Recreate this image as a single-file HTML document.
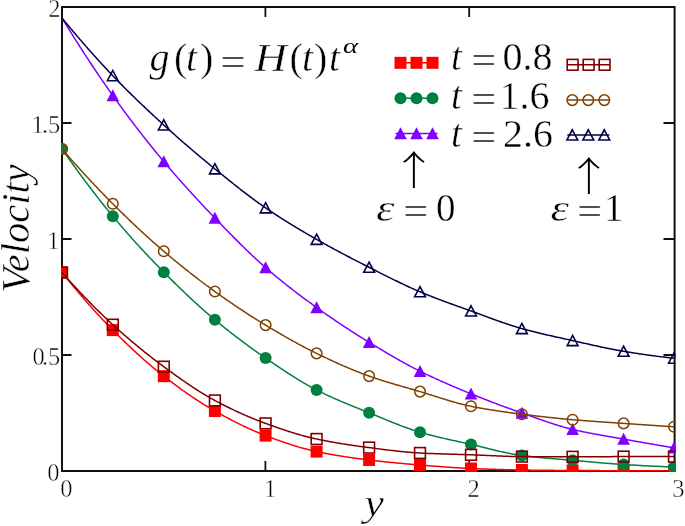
<!DOCTYPE html>
<html><head><meta charset="utf-8"><title>Velocity plot</title>
<style>
html,body{margin:0;padding:0;background:#fff;}
body{width:685px;height:526px;overflow:hidden;position:relative;}
svg{position:absolute;left:0;top:0;display:block;}
text{font-family:"Liberation Serif","Times New Roman",serif;fill:#000;stroke:#fff;stroke-width:0.45px;}
.ar{stroke:none;}
.it{font-style:italic;}
</style></head><body>
<svg width="685" height="526" viewBox="0 0 685 526">
<defs><clipPath id="pa"><rect x="61" y="6" width="614.6" height="466"/></clipPath></defs>

<rect x="62" y="7" width="612.6" height="464" fill="none" stroke="#111" stroke-width="2"/>
<path d="M265.4 471V461M265.4 7V17M469.2 471V461M469.2 7V17M62 355.0H71.5M674.6 355.0H663.5M62 239.0H71.5M674.6 239.0H663.5M62 123.0H71.5M674.6 123.0H663.5" stroke="#111" stroke-width="1.8" fill="none"/>
<g clip-path="url(#pa)">
<polyline fill="none" stroke-width="1.5" stroke="#ff0000" points="62.0,272.50 63.0,273.75 64.0,274.99 65.0,276.23 66.0,277.46 67.0,278.69 68.0,279.92 69.0,281.14 70.0,282.36 71.0,283.57 72.0,284.78 73.0,285.99 74.0,287.19 75.0,288.38 76.0,289.57 77.0,290.76 78.0,291.94 79.0,293.12 80.0,294.30 81.0,295.47 82.0,296.63 83.0,297.79 84.0,298.95 85.0,300.10 86.0,301.24 87.0,302.39 88.0,303.52 89.0,304.65 90.0,305.78 91.0,306.90 92.0,308.02 93.0,309.13 94.0,310.24 95.0,311.34 96.0,312.44 97.0,313.53 98.0,314.62 99.0,315.70 100.0,316.78 101.0,317.85 102.0,318.92 103.0,319.98 104.0,321.04 105.0,322.09 106.0,323.13 107.0,324.17 108.0,325.21 109.0,326.24 110.0,327.26 111.0,328.28 112.0,329.29 113.0,330.30 114.0,331.30 115.0,332.31 116.0,333.30 117.0,334.30 118.0,335.29 119.0,336.28 120.0,337.26 121.0,338.24 122.0,339.22 123.0,340.19 124.0,341.16 125.0,342.13 126.0,343.09 127.0,344.05 128.0,345.01 129.0,345.96 130.0,346.91 131.0,347.85 132.0,348.79 133.0,349.73 134.0,350.66 135.0,351.58 136.0,352.51 137.0,353.42 138.0,354.34 139.0,355.25 140.0,356.15 141.0,357.05 142.0,357.95 143.0,358.84 144.0,359.72 145.0,360.61 146.0,361.48 147.0,362.35 148.0,363.22 149.0,364.08 150.0,364.94 151.0,365.79 152.0,366.63 153.0,367.47 154.0,368.31 155.0,369.14 156.0,369.96 157.0,370.78 158.0,371.60 159.0,372.40 160.0,373.21 161.0,374.00 162.0,374.79 163.0,375.58 164.0,376.36 165.0,377.13 166.0,377.90 167.0,378.67 168.0,379.44 169.0,380.20 170.0,380.96 171.0,381.71 172.0,382.46 173.0,383.21 174.0,383.96 175.0,384.70 176.0,385.44 177.0,386.17 178.0,386.91 179.0,387.63 180.0,388.36 181.0,389.08 182.0,389.80 183.0,390.51 184.0,391.22 185.0,391.92 186.0,392.62 187.0,393.32 188.0,394.01 189.0,394.70 190.0,395.39 191.0,396.07 192.0,396.75 193.0,397.42 194.0,398.09 195.0,398.75 196.0,399.41 197.0,400.07 198.0,400.72 199.0,401.36 200.0,402.00 201.0,402.64 202.0,403.27 203.0,403.90 204.0,404.52 205.0,405.14 206.0,405.76 207.0,406.37 208.0,406.97 209.0,407.57 210.0,408.16 211.0,408.75 212.0,409.34 213.0,409.91 214.0,410.49 215.0,411.06 216.0,411.62 217.0,412.18 218.0,412.74 219.0,413.30 220.0,413.86 221.0,414.41 222.0,414.96 223.0,415.51 224.0,416.05 225.0,416.60 226.0,417.13 227.0,417.67 228.0,418.20 229.0,418.73 230.0,419.26 231.0,419.78 232.0,420.31 233.0,420.82 234.0,421.34 235.0,421.85 236.0,422.36 237.0,422.86 238.0,423.36 239.0,423.86 240.0,424.35 241.0,424.84 242.0,425.33 243.0,425.81 244.0,426.29 245.0,426.76 246.0,427.24 247.0,427.70 248.0,428.17 249.0,428.62 250.0,429.08 251.0,429.53 252.0,429.98 253.0,430.42 254.0,430.86 255.0,431.29 256.0,431.72 257.0,432.14 258.0,432.56 259.0,432.98 260.0,433.39 261.0,433.79 262.0,434.20 263.0,434.59 264.0,434.98 265.0,435.37 266.0,435.75 267.0,436.13 268.0,436.51 269.0,436.89 270.0,437.26 271.0,437.64 272.0,438.01 273.0,438.38 274.0,438.75 275.0,439.11 276.0,439.48 277.0,439.84 278.0,440.20 279.0,440.56 280.0,440.91 281.0,441.27 282.0,441.62 283.0,441.96 284.0,442.31 285.0,442.65 286.0,442.99 287.0,443.33 288.0,443.66 289.0,443.99 290.0,444.32 291.0,444.64 292.0,444.97 293.0,445.28 294.0,445.60 295.0,445.91 296.0,446.21 297.0,446.52 298.0,446.82 299.0,447.11 300.0,447.40 301.0,447.69 302.0,447.98 303.0,448.25 304.0,448.53 305.0,448.80 306.0,449.07 307.0,449.33 308.0,449.59 309.0,449.84 310.0,450.09 311.0,450.33 312.0,450.57 313.0,450.80 314.0,451.03 315.0,451.25 316.0,451.47 317.0,451.68 318.0,451.89 319.0,452.10 320.0,452.31 321.0,452.51 322.0,452.71 323.0,452.91 324.0,453.10 325.0,453.30 326.0,453.49 327.0,453.68 328.0,453.86 329.0,454.05 330.0,454.23 331.0,454.41 332.0,454.59 333.0,454.76 334.0,454.94 335.0,455.11 336.0,455.28 337.0,455.45 338.0,455.61 339.0,455.78 340.0,455.94 341.0,456.10 342.0,456.26 343.0,456.42 344.0,456.57 345.0,456.73 346.0,456.88 347.0,457.03 348.0,457.18 349.0,457.33 350.0,457.47 351.0,457.62 352.0,457.76 353.0,457.90 354.0,458.04 355.0,458.18 356.0,458.32 357.0,458.45 358.0,458.59 359.0,458.72 360.0,458.85 361.0,458.98 362.0,459.11 363.0,459.24 364.0,459.37 365.0,459.49 366.0,459.62 367.0,459.74 368.0,459.87 369.0,459.99 370.0,460.11 371.0,460.23 372.0,460.35 373.0,460.47 374.0,460.58 375.0,460.70 376.0,460.81 377.0,460.93 378.0,461.04 379.0,461.15 380.0,461.26 381.0,461.37 382.0,461.48 383.0,461.58 384.0,461.69 385.0,461.80 386.0,461.90 387.0,462.01 388.0,462.11 389.0,462.21 390.0,462.31 391.0,462.41 392.0,462.51 393.0,462.61 394.0,462.71 395.0,462.80 396.0,462.90 397.0,462.99 398.0,463.09 399.0,463.18 400.0,463.28 401.0,463.37 402.0,463.46 403.0,463.55 404.0,463.64 405.0,463.73 406.0,463.82 407.0,463.91 408.0,463.99 409.0,464.08 410.0,464.17 411.0,464.25 412.0,464.34 413.0,464.42 414.0,464.51 415.0,464.59 416.0,464.67 417.0,464.76 418.0,464.84 419.0,464.92 420.0,465.00 421.0,465.08 422.0,465.16 423.0,465.24 424.0,465.32 425.0,465.40 426.0,465.49 427.0,465.57 428.0,465.65 429.0,465.73 430.0,465.81 431.0,465.89 432.0,465.97 433.0,466.05 434.0,466.13 435.0,466.21 436.0,466.28 437.0,466.36 438.0,466.44 439.0,466.52 440.0,466.59 441.0,466.67 442.0,466.74 443.0,466.82 444.0,466.89 445.0,466.97 446.0,467.04 447.0,467.11 448.0,467.18 449.0,467.25 450.0,467.32 451.0,467.39 452.0,467.46 453.0,467.52 454.0,467.59 455.0,467.65 456.0,467.71 457.0,467.78 458.0,467.84 459.0,467.90 460.0,467.95 461.0,468.01 462.0,468.07 463.0,468.12 464.0,468.17 465.0,468.22 466.0,468.27 467.0,468.32 468.0,468.37 469.0,468.41 470.0,468.46 471.0,468.50 472.0,468.54 473.0,468.58 474.0,468.62 475.0,468.66 476.0,468.70 477.0,468.74 478.0,468.78 479.0,468.82 480.0,468.86 481.0,468.89 482.0,468.93 483.0,468.97 484.0,469.00 485.0,469.04 486.0,469.08 487.0,469.11 488.0,469.15 489.0,469.18 490.0,469.21 491.0,469.25 492.0,469.28 493.0,469.31 494.0,469.34 495.0,469.37 496.0,469.40 497.0,469.43 498.0,469.46 499.0,469.49 500.0,469.52 501.0,469.55 502.0,469.58 503.0,469.60 504.0,469.63 505.0,469.66 506.0,469.68 507.0,469.71 508.0,469.73 509.0,469.75 510.0,469.78 511.0,469.80 512.0,469.82 513.0,469.84 514.0,469.86 515.0,469.88 516.0,469.90 517.0,469.92 518.0,469.94 519.0,469.95 520.0,469.97 521.0,469.99 522.0,470.00 523.0,470.02 524.0,470.03 525.0,470.04 526.0,470.06 527.0,470.07 528.0,470.09 529.0,470.10 530.0,470.11 531.0,470.13 532.0,470.14 533.0,470.15 534.0,470.16 535.0,470.18 536.0,470.19 537.0,470.20 538.0,470.21 539.0,470.22 540.0,470.23 541.0,470.24 542.0,470.25 543.0,470.27 544.0,470.28 545.0,470.29 546.0,470.30 547.0,470.31 548.0,470.32 549.0,470.32 550.0,470.33 551.0,470.34 552.0,470.35 553.0,470.36 554.0,470.37 555.0,470.38 556.0,470.39 557.0,470.39 558.0,470.40 559.0,470.41 560.0,470.42 561.0,470.42 562.0,470.43 563.0,470.44 564.0,470.45 565.0,470.45 566.0,470.46 567.0,470.47 568.0,470.47 569.0,470.48 570.0,470.48 571.0,470.49 572.0,470.50 573.0,470.50 574.0,470.51 575.0,470.51 576.0,470.52 577.0,470.52 578.0,470.53 579.0,470.53 580.0,470.54 581.0,470.54 582.0,470.55 583.0,470.55 584.0,470.56 585.0,470.56 586.0,470.57 587.0,470.57 588.0,470.58 589.0,470.58 590.0,470.59 591.0,470.59 592.0,470.59 593.0,470.60 594.0,470.60 595.0,470.61 596.0,470.61 597.0,470.61 598.0,470.62 599.0,470.62 600.0,470.63 601.0,470.63 602.0,470.63 603.0,470.64 604.0,470.64 605.0,470.64 606.0,470.65 607.0,470.65 608.0,470.65 609.0,470.66 610.0,470.66 611.0,470.66 612.0,470.67 613.0,470.67 614.0,470.67 615.0,470.68 616.0,470.68 617.0,470.68 618.0,470.68 619.0,470.69 620.0,470.69 621.0,470.69 622.0,470.70 623.0,470.70 624.0,470.70 625.0,470.70 626.0,470.71 627.0,470.71 628.0,470.71 629.0,470.71 630.0,470.72 631.0,470.72 632.0,470.72 633.0,470.72 634.0,470.73 635.0,470.73 636.0,470.73 637.0,470.73 638.0,470.74 639.0,470.74 640.0,470.74 641.0,470.74 642.0,470.75 643.0,470.75 644.0,470.75 645.0,470.75 646.0,470.75 647.0,470.76 648.0,470.76 649.0,470.76 650.0,470.76 651.0,470.76 652.0,470.77 653.0,470.77 654.0,470.77 655.0,470.77 656.0,470.77 657.0,470.78 658.0,470.78 659.0,470.78 660.0,470.78 661.0,470.78 662.0,470.78 663.0,470.79 664.0,470.79 665.0,470.79 666.0,470.79 667.0,470.79 668.0,470.79 669.0,470.79 670.0,470.80 671.0,470.80 672.0,470.80 673.0,470.80 674.0,470.80"/>
<rect x="56.0" y="266.5" width="12" height="12" fill="#ff0000"/>
<rect x="106.8" y="324.1" width="12" height="12" fill="#ff0000"/>
<rect x="157.8" y="370.2" width="12" height="12" fill="#ff0000"/>
<rect x="208.9" y="405.0" width="12" height="12" fill="#ff0000"/>
<rect x="259.6" y="429.6" width="12" height="12" fill="#ff0000"/>
<rect x="310.6" y="445.6" width="12" height="12" fill="#ff0000"/>
<rect x="363.1" y="454.0" width="12" height="12" fill="#ff0000"/>
<rect x="414.0" y="459.0" width="12" height="12" fill="#ff0000"/>
<rect x="465.0" y="462.5" width="12" height="12" fill="#ff0000"/>
<rect x="515.9" y="464.0" width="12" height="12" fill="#ff0000"/>
<rect x="566.6" y="464.5" width="12" height="12" fill="#ff0000"/>
<rect x="617.6" y="464.7" width="12" height="12" fill="#ff0000"/>
<rect x="668.0" y="464.8" width="12" height="12" fill="#ff0000"/>
<polyline fill="none" stroke-width="1.5" stroke="#008040" points="62.0,149.00 63.0,150.43 64.0,151.86 65.0,153.29 66.0,154.71 67.0,156.12 68.0,157.54 69.0,158.95 70.0,160.35 71.0,161.75 72.0,163.15 73.0,164.54 74.0,165.93 75.0,167.31 76.0,168.69 77.0,170.06 78.0,171.43 79.0,172.80 80.0,174.16 81.0,175.52 82.0,176.87 83.0,178.22 84.0,179.56 85.0,180.90 86.0,182.23 87.0,183.56 88.0,184.89 89.0,186.21 90.0,187.52 91.0,188.83 92.0,190.14 93.0,191.44 94.0,192.74 95.0,194.03 96.0,195.32 97.0,196.60 98.0,197.88 99.0,199.15 100.0,200.42 101.0,201.68 102.0,202.94 103.0,204.19 104.0,205.44 105.0,206.68 106.0,207.92 107.0,209.15 108.0,210.38 109.0,211.60 110.0,212.82 111.0,214.03 112.0,215.24 113.0,216.44 114.0,217.64 115.0,218.83 116.0,220.02 117.0,221.20 118.0,222.38 119.0,223.56 120.0,224.73 121.0,225.89 122.0,227.06 123.0,228.21 124.0,229.37 125.0,230.52 126.0,231.66 127.0,232.80 128.0,233.94 129.0,235.07 130.0,236.20 131.0,237.33 132.0,238.45 133.0,239.57 134.0,240.68 135.0,241.79 136.0,242.90 137.0,244.00 138.0,245.10 139.0,246.19 140.0,247.28 141.0,248.37 142.0,249.45 143.0,250.53 144.0,251.61 145.0,252.68 146.0,253.75 147.0,254.81 148.0,255.87 149.0,256.93 150.0,257.99 151.0,259.04 152.0,260.09 153.0,261.13 154.0,262.17 155.0,263.21 156.0,264.24 157.0,265.27 158.0,266.30 159.0,267.33 160.0,268.35 161.0,269.37 162.0,270.38 163.0,271.39 164.0,272.40 165.0,273.41 166.0,274.41 167.0,275.41 168.0,276.41 169.0,277.41 170.0,278.41 171.0,279.40 172.0,280.39 173.0,281.38 174.0,282.36 175.0,283.34 176.0,284.32 177.0,285.30 178.0,286.27 179.0,287.24 180.0,288.21 181.0,289.17 182.0,290.14 183.0,291.10 184.0,292.05 185.0,293.00 186.0,293.95 187.0,294.90 188.0,295.84 189.0,296.78 190.0,297.72 191.0,298.65 192.0,299.58 193.0,300.51 194.0,301.43 195.0,302.35 196.0,303.26 197.0,304.17 198.0,305.08 199.0,305.98 200.0,306.88 201.0,307.78 202.0,308.67 203.0,309.56 204.0,310.44 205.0,311.32 206.0,312.20 207.0,313.07 208.0,313.94 209.0,314.80 210.0,315.66 211.0,316.51 212.0,317.36 213.0,318.21 214.0,319.05 215.0,319.88 216.0,320.72 217.0,321.54 218.0,322.37 219.0,323.19 220.0,324.01 221.0,324.83 222.0,325.64 223.0,326.45 224.0,327.25 225.0,328.05 226.0,328.85 227.0,329.65 228.0,330.44 229.0,331.23 230.0,332.02 231.0,332.80 232.0,333.58 233.0,334.36 234.0,335.13 235.0,335.90 236.0,336.67 237.0,337.43 238.0,338.20 239.0,338.95 240.0,339.71 241.0,340.46 242.0,341.21 243.0,341.96 244.0,342.70 245.0,343.45 246.0,344.18 247.0,344.92 248.0,345.65 249.0,346.38 250.0,347.11 251.0,347.83 252.0,348.55 253.0,349.27 254.0,349.99 255.0,350.70 256.0,351.41 257.0,352.12 258.0,352.83 259.0,353.53 260.0,354.23 261.0,354.93 262.0,355.62 263.0,356.31 264.0,357.00 265.0,357.69 266.0,358.37 267.0,359.06 268.0,359.74 269.0,360.42 270.0,361.11 271.0,361.79 272.0,362.47 273.0,363.15 274.0,363.83 275.0,364.51 276.0,365.18 277.0,365.86 278.0,366.53 279.0,367.20 280.0,367.87 281.0,368.54 282.0,369.20 283.0,369.87 284.0,370.53 285.0,371.19 286.0,371.84 287.0,372.50 288.0,373.15 289.0,373.79 290.0,374.44 291.0,375.08 292.0,375.72 293.0,376.35 294.0,376.98 295.0,377.61 296.0,378.23 297.0,378.85 298.0,379.46 299.0,380.07 300.0,380.68 301.0,381.28 302.0,381.88 303.0,382.47 304.0,383.06 305.0,383.64 306.0,384.22 307.0,384.79 308.0,385.36 309.0,385.92 310.0,386.48 311.0,387.03 312.0,387.57 313.0,388.11 314.0,388.64 315.0,389.17 316.0,389.69 317.0,390.20 318.0,390.71 319.0,391.22 320.0,391.72 321.0,392.21 322.0,392.70 323.0,393.19 324.0,393.67 325.0,394.15 326.0,394.62 327.0,395.09 328.0,395.56 329.0,396.02 330.0,396.48 331.0,396.93 332.0,397.38 333.0,397.83 334.0,398.28 335.0,398.72 336.0,399.16 337.0,399.60 338.0,400.03 339.0,400.46 340.0,400.89 341.0,401.32 342.0,401.74 343.0,402.17 344.0,402.59 345.0,403.01 346.0,403.42 347.0,403.84 348.0,404.25 349.0,404.66 350.0,405.07 351.0,405.48 352.0,405.89 353.0,406.30 354.0,406.70 355.0,407.11 356.0,407.51 357.0,407.92 358.0,408.32 359.0,408.72 360.0,409.13 361.0,409.53 362.0,409.93 363.0,410.34 364.0,410.74 365.0,411.14 366.0,411.55 367.0,411.95 368.0,412.35 369.0,412.76 370.0,413.17 371.0,413.57 372.0,413.98 373.0,414.39 374.0,414.80 375.0,415.22 376.0,415.63 377.0,416.04 378.0,416.45 379.0,416.87 380.0,417.28 381.0,417.69 382.0,418.11 383.0,418.52 384.0,418.93 385.0,419.34 386.0,419.75 387.0,420.16 388.0,420.57 389.0,420.98 390.0,421.39 391.0,421.79 392.0,422.19 393.0,422.59 394.0,422.99 395.0,423.39 396.0,423.78 397.0,424.18 398.0,424.57 399.0,424.95 400.0,425.34 401.0,425.72 402.0,426.10 403.0,426.47 404.0,426.84 405.0,427.21 406.0,427.57 407.0,427.93 408.0,428.29 409.0,428.64 410.0,428.99 411.0,429.33 412.0,429.67 413.0,430.01 414.0,430.34 415.0,430.66 416.0,430.98 417.0,431.29 418.0,431.60 419.0,431.90 420.0,432.20 421.0,432.49 422.0,432.78 423.0,433.06 424.0,433.35 425.0,433.62 426.0,433.90 427.0,434.17 428.0,434.44 429.0,434.70 430.0,434.96 431.0,435.22 432.0,435.48 433.0,435.73 434.0,435.98 435.0,436.23 436.0,436.48 437.0,436.72 438.0,436.96 439.0,437.20 440.0,437.44 441.0,437.68 442.0,437.91 443.0,438.14 444.0,438.38 445.0,438.61 446.0,438.83 447.0,439.06 448.0,439.29 449.0,439.51 450.0,439.74 451.0,439.96 452.0,440.18 453.0,440.40 454.0,440.62 455.0,440.84 456.0,441.06 457.0,441.29 458.0,441.51 459.0,441.73 460.0,441.95 461.0,442.17 462.0,442.39 463.0,442.61 464.0,442.83 465.0,443.05 466.0,443.27 467.0,443.50 468.0,443.72 469.0,443.95 470.0,444.17 471.0,444.40 472.0,444.63 473.0,444.86 474.0,445.10 475.0,445.33 476.0,445.57 477.0,445.81 478.0,446.05 479.0,446.29 480.0,446.54 481.0,446.78 482.0,447.03 483.0,447.27 484.0,447.52 485.0,447.77 486.0,448.01 487.0,448.26 488.0,448.51 489.0,448.76 490.0,449.00 491.0,449.25 492.0,449.49 493.0,449.73 494.0,449.98 495.0,450.22 496.0,450.45 497.0,450.69 498.0,450.93 499.0,451.16 500.0,451.39 501.0,451.62 502.0,451.84 503.0,452.07 504.0,452.29 505.0,452.50 506.0,452.71 507.0,452.92 508.0,453.13 509.0,453.33 510.0,453.53 511.0,453.72 512.0,453.91 513.0,454.09 514.0,454.27 515.0,454.45 516.0,454.62 517.0,454.78 518.0,454.94 519.0,455.09 520.0,455.24 521.0,455.38 522.0,455.51 523.0,455.64 524.0,455.77 525.0,455.90 526.0,456.02 527.0,456.14 528.0,456.26 529.0,456.37 530.0,456.49 531.0,456.60 532.0,456.71 533.0,456.82 534.0,456.92 535.0,457.03 536.0,457.13 537.0,457.23 538.0,457.33 539.0,457.42 540.0,457.52 541.0,457.61 542.0,457.71 543.0,457.80 544.0,457.89 545.0,457.98 546.0,458.07 547.0,458.16 548.0,458.24 549.0,458.33 550.0,458.41 551.0,458.50 552.0,458.58 553.0,458.67 554.0,458.75 555.0,458.83 556.0,458.91 557.0,459.00 558.0,459.08 559.0,459.16 560.0,459.24 561.0,459.32 562.0,459.41 563.0,459.49 564.0,459.57 565.0,459.65 566.0,459.74 567.0,459.82 568.0,459.90 569.0,459.99 570.0,460.07 571.0,460.16 572.0,460.25 573.0,460.34 574.0,460.42 575.0,460.51 576.0,460.60 577.0,460.69 578.0,460.78 579.0,460.87 580.0,460.96 581.0,461.05 582.0,461.14 583.0,461.23 584.0,461.32 585.0,461.41 586.0,461.50 587.0,461.59 588.0,461.68 589.0,461.77 590.0,461.86 591.0,461.95 592.0,462.03 593.0,462.12 594.0,462.21 595.0,462.30 596.0,462.39 597.0,462.47 598.0,462.56 599.0,462.64 600.0,462.73 601.0,462.81 602.0,462.90 603.0,462.98 604.0,463.06 605.0,463.15 606.0,463.23 607.0,463.31 608.0,463.39 609.0,463.47 610.0,463.54 611.0,463.62 612.0,463.70 613.0,463.77 614.0,463.85 615.0,463.92 616.0,463.99 617.0,464.06 618.0,464.13 619.0,464.20 620.0,464.27 621.0,464.33 622.0,464.40 623.0,464.46 624.0,464.52 625.0,464.59 626.0,464.65 627.0,464.71 628.0,464.77 629.0,464.83 630.0,464.89 631.0,464.95 632.0,465.01 633.0,465.07 634.0,465.12 635.0,465.18 636.0,465.24 637.0,465.30 638.0,465.35 639.0,465.41 640.0,465.46 641.0,465.52 642.0,465.57 643.0,465.63 644.0,465.68 645.0,465.73 646.0,465.79 647.0,465.84 648.0,465.89 649.0,465.94 650.0,465.99 651.0,466.04 652.0,466.09 653.0,466.14 654.0,466.19 655.0,466.23 656.0,466.28 657.0,466.32 658.0,466.37 659.0,466.41 660.0,466.46 661.0,466.50 662.0,466.54 663.0,466.59 664.0,466.63 665.0,466.67 666.0,466.71 667.0,466.75 668.0,466.79 669.0,466.82 670.0,466.86 671.0,466.90 672.0,466.93 673.0,466.97 674.0,467.00"/>
<circle cx="62.0" cy="149.0" r="6" fill="#008040"/>
<circle cx="112.8" cy="216.2" r="6" fill="#008040"/>
<circle cx="163.8" cy="272.2" r="6" fill="#008040"/>
<circle cx="214.9" cy="319.8" r="6" fill="#008040"/>
<circle cx="265.6" cy="358.1" r="6" fill="#008040"/>
<circle cx="316.6" cy="390.0" r="6" fill="#008040"/>
<circle cx="369.1" cy="412.8" r="6" fill="#008040"/>
<circle cx="420.0" cy="432.2" r="6" fill="#008040"/>
<circle cx="471.0" cy="444.4" r="6" fill="#008040"/>
<circle cx="521.9" cy="455.5" r="6" fill="#008040"/>
<circle cx="572.6" cy="460.3" r="6" fill="#008040"/>
<circle cx="623.6" cy="464.5" r="6" fill="#008040"/>
<circle cx="674.0" cy="467.0" r="6" fill="#008040"/>
<polyline fill="none" stroke-width="1.5" stroke="#8000ff" points="62.0,18.00 63.0,19.64 64.0,21.27 65.0,22.90 66.0,24.53 67.0,26.15 68.0,27.77 69.0,29.38 70.0,30.99 71.0,32.59 72.0,34.19 73.0,35.79 74.0,37.38 75.0,38.96 76.0,40.55 77.0,42.12 78.0,43.70 79.0,45.27 80.0,46.83 81.0,48.39 82.0,49.95 83.0,51.50 84.0,53.04 85.0,54.58 86.0,56.12 87.0,57.65 88.0,59.18 89.0,60.70 90.0,62.22 91.0,63.73 92.0,65.24 93.0,66.75 94.0,68.25 95.0,69.74 96.0,71.23 97.0,72.71 98.0,74.19 99.0,75.67 100.0,77.14 101.0,78.60 102.0,80.06 103.0,81.52 104.0,82.97 105.0,84.41 106.0,85.85 107.0,87.28 108.0,88.71 109.0,90.14 110.0,91.56 111.0,92.97 112.0,94.38 113.0,95.78 114.0,97.18 115.0,98.57 116.0,99.96 117.0,101.35 118.0,102.73 119.0,104.11 120.0,105.48 121.0,106.85 122.0,108.22 123.0,109.58 124.0,110.94 125.0,112.29 126.0,113.64 127.0,114.98 128.0,116.32 129.0,117.66 130.0,118.99 131.0,120.32 132.0,121.64 133.0,122.96 134.0,124.28 135.0,125.59 136.0,126.89 137.0,128.20 138.0,129.50 139.0,130.79 140.0,132.08 141.0,133.37 142.0,134.65 143.0,135.93 144.0,137.20 145.0,138.47 146.0,139.74 147.0,141.00 148.0,142.26 149.0,143.51 150.0,144.76 151.0,146.01 152.0,147.25 153.0,148.49 154.0,149.72 155.0,150.95 156.0,152.18 157.0,153.40 158.0,154.62 159.0,155.83 160.0,157.04 161.0,158.25 162.0,159.45 163.0,160.64 164.0,161.84 165.0,163.03 166.0,164.21 167.0,165.39 168.0,166.57 169.0,167.74 170.0,168.91 171.0,170.08 172.0,171.24 173.0,172.39 174.0,173.54 175.0,174.69 176.0,175.84 177.0,176.98 178.0,178.12 179.0,179.25 180.0,180.38 181.0,181.51 182.0,182.63 183.0,183.75 184.0,184.87 185.0,185.98 186.0,187.09 187.0,188.20 188.0,189.31 189.0,190.41 190.0,191.50 191.0,192.60 192.0,193.69 193.0,194.78 194.0,195.87 195.0,196.95 196.0,198.03 197.0,199.11 198.0,200.18 199.0,201.25 200.0,202.32 201.0,203.39 202.0,204.46 203.0,205.52 204.0,206.58 205.0,207.64 206.0,208.69 207.0,209.75 208.0,210.80 209.0,211.85 210.0,212.90 211.0,213.94 212.0,214.98 213.0,216.03 214.0,217.07 215.0,218.10 216.0,219.14 217.0,220.18 218.0,221.21 219.0,222.25 220.0,223.28 221.0,224.32 222.0,225.35 223.0,226.38 224.0,227.41 225.0,228.44 226.0,229.46 227.0,230.49 228.0,231.51 229.0,232.53 230.0,233.55 231.0,234.57 232.0,235.59 233.0,236.60 234.0,237.61 235.0,238.62 236.0,239.62 237.0,240.63 238.0,241.62 239.0,242.62 240.0,243.61 241.0,244.60 242.0,245.59 243.0,246.57 244.0,247.55 245.0,248.53 246.0,249.50 247.0,250.47 248.0,251.43 249.0,252.39 250.0,253.35 251.0,254.30 252.0,255.24 253.0,256.19 254.0,257.12 255.0,258.05 256.0,258.98 257.0,259.90 258.0,260.82 259.0,261.73 260.0,262.64 261.0,263.54 262.0,264.43 263.0,265.32 264.0,266.20 265.0,267.08 266.0,267.95 267.0,268.81 268.0,269.67 269.0,270.53 270.0,271.38 271.0,272.23 272.0,273.08 273.0,273.92 274.0,274.76 275.0,275.59 276.0,276.42 277.0,277.25 278.0,278.07 279.0,278.89 280.0,279.70 281.0,280.51 282.0,281.32 283.0,282.12 284.0,282.92 285.0,283.72 286.0,284.52 287.0,285.31 288.0,286.09 289.0,286.88 290.0,287.66 291.0,288.44 292.0,289.21 293.0,289.99 294.0,290.76 295.0,291.52 296.0,292.29 297.0,293.05 298.0,293.81 299.0,294.56 300.0,295.32 301.0,296.07 302.0,296.82 303.0,297.56 304.0,298.31 305.0,299.05 306.0,299.79 307.0,300.52 308.0,301.26 309.0,301.99 310.0,302.72 311.0,303.45 312.0,304.18 313.0,304.90 314.0,305.63 315.0,306.35 316.0,307.07 317.0,307.79 318.0,308.50 319.0,309.22 320.0,309.93 321.0,310.64 322.0,311.34 323.0,312.05 324.0,312.75 325.0,313.45 326.0,314.15 327.0,314.85 328.0,315.54 329.0,316.23 330.0,316.92 331.0,317.61 332.0,318.30 333.0,318.98 334.0,319.66 335.0,320.34 336.0,321.02 337.0,321.69 338.0,322.36 339.0,323.04 340.0,323.70 341.0,324.37 342.0,325.04 343.0,325.70 344.0,326.36 345.0,327.02 346.0,327.67 347.0,328.33 348.0,328.98 349.0,329.63 350.0,330.28 351.0,330.93 352.0,331.57 353.0,332.21 354.0,332.86 355.0,333.49 356.0,334.13 357.0,334.77 358.0,335.40 359.0,336.03 360.0,336.66 361.0,337.29 362.0,337.91 363.0,338.54 364.0,339.16 365.0,339.78 366.0,340.40 367.0,341.01 368.0,341.63 369.0,342.24 370.0,342.85 371.0,343.46 372.0,344.07 373.0,344.68 374.0,345.29 375.0,345.89 376.0,346.50 377.0,347.10 378.0,347.71 379.0,348.31 380.0,348.91 381.0,349.51 382.0,350.11 383.0,350.71 384.0,351.30 385.0,351.89 386.0,352.49 387.0,353.08 388.0,353.67 389.0,354.25 390.0,354.84 391.0,355.42 392.0,356.00 393.0,356.58 394.0,357.16 395.0,357.73 396.0,358.30 397.0,358.87 398.0,359.44 399.0,360.01 400.0,360.57 401.0,361.13 402.0,361.69 403.0,362.24 404.0,362.79 405.0,363.34 406.0,363.89 407.0,364.43 408.0,364.97 409.0,365.51 410.0,366.04 411.0,366.57 412.0,367.10 413.0,367.63 414.0,368.15 415.0,368.66 416.0,369.18 417.0,369.69 418.0,370.20 419.0,370.70 420.0,371.20 421.0,371.70 422.0,372.19 423.0,372.68 424.0,373.17 425.0,373.65 426.0,374.14 427.0,374.62 428.0,375.09 429.0,375.57 430.0,376.04 431.0,376.51 432.0,376.98 433.0,377.44 434.0,377.91 435.0,378.37 436.0,378.82 437.0,379.28 438.0,379.73 439.0,380.19 440.0,380.64 441.0,381.08 442.0,381.53 443.0,381.97 444.0,382.42 445.0,382.86 446.0,383.29 447.0,383.73 448.0,384.17 449.0,384.60 450.0,385.03 451.0,385.46 452.0,385.89 453.0,386.32 454.0,386.74 455.0,387.17 456.0,387.59 457.0,388.01 458.0,388.43 459.0,388.85 460.0,389.27 461.0,389.69 462.0,390.10 463.0,390.52 464.0,390.93 465.0,391.34 466.0,391.75 467.0,392.16 468.0,392.57 469.0,392.98 470.0,393.39 471.0,393.80 472.0,394.21 473.0,394.61 474.0,395.02 475.0,395.42 476.0,395.82 477.0,396.22 478.0,396.62 479.0,397.02 480.0,397.42 481.0,397.81 482.0,398.21 483.0,398.60 484.0,398.99 485.0,399.38 486.0,399.77 487.0,400.16 488.0,400.55 489.0,400.94 490.0,401.32 491.0,401.71 492.0,402.09 493.0,402.47 494.0,402.85 495.0,403.23 496.0,403.61 497.0,403.98 498.0,404.36 499.0,404.73 500.0,405.11 501.0,405.48 502.0,405.85 503.0,406.22 504.0,406.59 505.0,406.96 506.0,407.32 507.0,407.69 508.0,408.05 509.0,408.42 510.0,408.78 511.0,409.14 512.0,409.50 513.0,409.86 514.0,410.21 515.0,410.57 516.0,410.93 517.0,411.28 518.0,411.63 519.0,411.99 520.0,412.34 521.0,412.69 522.0,413.03 523.0,413.38 524.0,413.73 525.0,414.09 526.0,414.44 527.0,414.79 528.0,415.14 529.0,415.50 530.0,415.85 531.0,416.21 532.0,416.56 533.0,416.92 534.0,417.27 535.0,417.63 536.0,417.98 537.0,418.33 538.0,418.69 539.0,419.04 540.0,419.39 541.0,419.74 542.0,420.09 543.0,420.43 544.0,420.78 545.0,421.12 546.0,421.46 547.0,421.80 548.0,422.14 549.0,422.48 550.0,422.81 551.0,423.14 552.0,423.47 553.0,423.79 554.0,424.12 555.0,424.43 556.0,424.75 557.0,425.06 558.0,425.37 559.0,425.68 560.0,425.98 561.0,426.28 562.0,426.57 563.0,426.86 564.0,427.15 565.0,427.43 566.0,427.70 567.0,427.97 568.0,428.24 569.0,428.50 570.0,428.76 571.0,429.01 572.0,429.26 573.0,429.50 574.0,429.73 575.0,429.97 576.0,430.19 577.0,430.42 578.0,430.65 579.0,430.87 580.0,431.08 581.0,431.30 582.0,431.51 583.0,431.72 584.0,431.93 585.0,432.13 586.0,432.33 587.0,432.53 588.0,432.73 589.0,432.93 590.0,433.12 591.0,433.31 592.0,433.50 593.0,433.69 594.0,433.87 595.0,434.06 596.0,434.24 597.0,434.42 598.0,434.61 599.0,434.79 600.0,434.96 601.0,435.14 602.0,435.32 603.0,435.49 604.0,435.67 605.0,435.84 606.0,436.02 607.0,436.19 608.0,436.37 609.0,436.54 610.0,436.71 611.0,436.89 612.0,437.06 613.0,437.23 614.0,437.40 615.0,437.58 616.0,437.75 617.0,437.93 618.0,438.10 619.0,438.28 620.0,438.46 621.0,438.63 622.0,438.81 623.0,438.99 624.0,439.17 625.0,439.35 626.0,439.53 627.0,439.71 628.0,439.89 629.0,440.07 630.0,440.25 631.0,440.43 632.0,440.61 633.0,440.79 634.0,440.96 635.0,441.14 636.0,441.32 637.0,441.50 638.0,441.67 639.0,441.85 640.0,442.02 641.0,442.20 642.0,442.38 643.0,442.55 644.0,442.72 645.0,442.90 646.0,443.07 647.0,443.25 648.0,443.42 649.0,443.59 650.0,443.76 651.0,443.94 652.0,444.11 653.0,444.28 654.0,444.45 655.0,444.62 656.0,444.79 657.0,444.96 658.0,445.13 659.0,445.30 660.0,445.47 661.0,445.64 662.0,445.81 663.0,445.98 664.0,446.14 665.0,446.31 666.0,446.48 667.0,446.64 668.0,446.81 669.0,446.98 670.0,447.14 671.0,447.31 672.0,447.47 673.0,447.64 674.0,447.80"/>
<polygon points="112.8,89.2 119.1,101.2 106.5,101.2" fill="#8000ff"/>
<polygon points="163.8,155.3 170.1,167.3 157.5,167.3" fill="#8000ff"/>
<polygon points="214.9,211.7 221.2,223.7 208.6,223.7" fill="#8000ff"/>
<polygon points="265.6,261.3 271.9,273.3 259.3,273.3" fill="#8000ff"/>
<polygon points="316.6,301.2 322.9,313.2 310.3,313.2" fill="#8000ff"/>
<polygon points="369.1,336.0 375.4,348.0 362.8,348.0" fill="#8000ff"/>
<polygon points="420.0,364.9 426.3,376.9 413.7,376.9" fill="#8000ff"/>
<polygon points="471.0,387.5 477.3,399.5 464.7,399.5" fill="#8000ff"/>
<polygon points="521.9,406.7 528.2,418.7 515.6,418.7" fill="#8000ff"/>
<polygon points="572.6,423.1 578.9,435.1 566.3,435.1" fill="#8000ff"/>
<polygon points="623.6,432.8 629.9,444.8 617.3,444.8" fill="#8000ff"/>
<polygon points="674.0,441.5 680.3,453.5 667.7,453.5" fill="#8000ff"/>
<polyline fill="none" stroke-width="1.5" stroke="#800000" points="62.0,272.50 63.0,273.63 64.0,274.75 65.0,275.87 66.0,276.99 67.0,278.10 68.0,279.21 69.0,280.32 70.0,281.42 71.0,282.52 72.0,283.61 73.0,284.70 74.0,285.79 75.0,286.87 76.0,287.95 77.0,289.03 78.0,290.10 79.0,291.16 80.0,292.23 81.0,293.29 82.0,294.34 83.0,295.39 84.0,296.44 85.0,297.48 86.0,298.52 87.0,299.55 88.0,300.58 89.0,301.61 90.0,302.63 91.0,303.65 92.0,304.66 93.0,305.67 94.0,306.67 95.0,307.67 96.0,308.67 97.0,309.66 98.0,310.64 99.0,311.63 100.0,312.60 101.0,313.58 102.0,314.54 103.0,315.51 104.0,316.47 105.0,317.42 106.0,318.37 107.0,319.32 108.0,320.26 109.0,321.19 110.0,322.12 111.0,323.05 112.0,323.97 113.0,324.88 114.0,325.79 115.0,326.70 116.0,327.61 117.0,328.51 118.0,329.41 119.0,330.30 120.0,331.19 121.0,332.08 122.0,332.96 123.0,333.84 124.0,334.72 125.0,335.59 126.0,336.46 127.0,337.32 128.0,338.18 129.0,339.04 130.0,339.90 131.0,340.75 132.0,341.59 133.0,342.44 134.0,343.28 135.0,344.12 136.0,344.95 137.0,345.78 138.0,346.60 139.0,347.43 140.0,348.25 141.0,349.06 142.0,349.87 143.0,350.68 144.0,351.49 145.0,352.29 146.0,353.09 147.0,353.88 148.0,354.67 149.0,355.46 150.0,356.24 151.0,357.02 152.0,357.80 153.0,358.57 154.0,359.34 155.0,360.11 156.0,360.87 157.0,361.63 158.0,362.39 159.0,363.14 160.0,363.89 161.0,364.63 162.0,365.37 163.0,366.11 164.0,366.85 165.0,367.58 166.0,368.31 167.0,369.04 168.0,369.77 169.0,370.50 170.0,371.23 171.0,371.95 172.0,372.68 173.0,373.40 174.0,374.12 175.0,374.84 176.0,375.56 177.0,376.27 178.0,376.98 179.0,377.69 180.0,378.40 181.0,379.10 182.0,379.80 183.0,380.50 184.0,381.20 185.0,381.89 186.0,382.58 187.0,383.26 188.0,383.94 189.0,384.62 190.0,385.30 191.0,385.97 192.0,386.63 193.0,387.29 194.0,387.95 195.0,388.60 196.0,389.25 197.0,389.90 198.0,390.54 199.0,391.17 200.0,391.80 201.0,392.42 202.0,393.04 203.0,393.66 204.0,394.26 205.0,394.87 206.0,395.46 207.0,396.05 208.0,396.64 209.0,397.22 210.0,397.79 211.0,398.36 212.0,398.91 213.0,399.47 214.0,400.01 215.0,400.55 216.0,401.09 217.0,401.62 218.0,402.15 219.0,402.67 220.0,403.19 221.0,403.71 222.0,404.23 223.0,404.74 224.0,405.25 225.0,405.75 226.0,406.25 227.0,406.75 228.0,407.25 229.0,407.74 230.0,408.23 231.0,408.71 232.0,409.19 233.0,409.67 234.0,410.15 235.0,410.62 236.0,411.09 237.0,411.55 238.0,412.01 239.0,412.47 240.0,412.93 241.0,413.38 242.0,413.83 243.0,414.27 244.0,414.71 245.0,415.15 246.0,415.58 247.0,416.01 248.0,416.44 249.0,416.87 250.0,417.29 251.0,417.70 252.0,418.12 253.0,418.53 254.0,418.93 255.0,419.34 256.0,419.74 257.0,420.13 258.0,420.53 259.0,420.92 260.0,421.30 261.0,421.68 262.0,422.06 263.0,422.44 264.0,422.81 265.0,423.18 266.0,423.55 267.0,423.91 268.0,424.27 269.0,424.63 270.0,424.99 271.0,425.35 272.0,425.71 273.0,426.07 274.0,426.42 275.0,426.77 276.0,427.13 277.0,427.47 278.0,427.82 279.0,428.17 280.0,428.51 281.0,428.85 282.0,429.19 283.0,429.53 284.0,429.86 285.0,430.19 286.0,430.52 287.0,430.85 288.0,431.18 289.0,431.50 290.0,431.82 291.0,432.13 292.0,432.45 293.0,432.76 294.0,433.06 295.0,433.37 296.0,433.67 297.0,433.96 298.0,434.26 299.0,434.55 300.0,434.83 301.0,435.12 302.0,435.40 303.0,435.67 304.0,435.94 305.0,436.21 306.0,436.47 307.0,436.73 308.0,436.99 309.0,437.24 310.0,437.49 311.0,437.73 312.0,437.97 313.0,438.20 314.0,438.43 315.0,438.65 316.0,438.87 317.0,439.09 318.0,439.30 319.0,439.51 320.0,439.71 321.0,439.92 322.0,440.12 323.0,440.32 324.0,440.52 325.0,440.71 326.0,440.90 327.0,441.10 328.0,441.28 329.0,441.47 330.0,441.66 331.0,441.84 332.0,442.02 333.0,442.20 334.0,442.37 335.0,442.55 336.0,442.72 337.0,442.89 338.0,443.06 339.0,443.23 340.0,443.39 341.0,443.56 342.0,443.72 343.0,443.88 344.0,444.04 345.0,444.20 346.0,444.35 347.0,444.51 348.0,444.66 349.0,444.81 350.0,444.96 351.0,445.11 352.0,445.26 353.0,445.41 354.0,445.55 355.0,445.69 356.0,445.84 357.0,445.98 358.0,446.12 359.0,446.26 360.0,446.39 361.0,446.53 362.0,446.67 363.0,446.80 364.0,446.93 365.0,447.07 366.0,447.20 367.0,447.33 368.0,447.46 369.0,447.59 370.0,447.72 371.0,447.84 372.0,447.97 373.0,448.10 374.0,448.23 375.0,448.36 376.0,448.49 377.0,448.62 378.0,448.75 379.0,448.88 380.0,449.01 381.0,449.13 382.0,449.26 383.0,449.39 384.0,449.51 385.0,449.64 386.0,449.76 387.0,449.89 388.0,450.01 389.0,450.13 390.0,450.25 391.0,450.37 392.0,450.49 393.0,450.60 394.0,450.72 395.0,450.83 396.0,450.94 397.0,451.06 398.0,451.16 399.0,451.27 400.0,451.38 401.0,451.48 402.0,451.58 403.0,451.68 404.0,451.78 405.0,451.88 406.0,451.97 407.0,452.06 408.0,452.15 409.0,452.23 410.0,452.32 411.0,452.40 412.0,452.48 413.0,452.55 414.0,452.63 415.0,452.70 416.0,452.76 417.0,452.83 418.0,452.89 419.0,452.95 420.0,453.00 421.0,453.05 422.0,453.10 423.0,453.15 424.0,453.20 425.0,453.25 426.0,453.29 427.0,453.34 428.0,453.38 429.0,453.43 430.0,453.47 431.0,453.51 432.0,453.55 433.0,453.59 434.0,453.62 435.0,453.66 436.0,453.70 437.0,453.73 438.0,453.77 439.0,453.80 440.0,453.84 441.0,453.87 442.0,453.90 443.0,453.93 444.0,453.97 445.0,454.00 446.0,454.03 447.0,454.06 448.0,454.09 449.0,454.12 450.0,454.15 451.0,454.18 452.0,454.21 453.0,454.24 454.0,454.27 455.0,454.30 456.0,454.33 457.0,454.35 458.0,454.38 459.0,454.41 460.0,454.44 461.0,454.47 462.0,454.51 463.0,454.54 464.0,454.57 465.0,454.60 466.0,454.63 467.0,454.66 468.0,454.70 469.0,454.73 470.0,454.77 471.0,454.80 472.0,454.84 473.0,454.87 474.0,454.91 475.0,454.95 476.0,454.99 477.0,455.03 478.0,455.07 479.0,455.11 480.0,455.16 481.0,455.20 482.0,455.24 483.0,455.29 484.0,455.33 485.0,455.37 486.0,455.42 487.0,455.46 488.0,455.51 489.0,455.55 490.0,455.60 491.0,455.64 492.0,455.69 493.0,455.73 494.0,455.77 495.0,455.82 496.0,455.86 497.0,455.90 498.0,455.94 499.0,455.99 500.0,456.03 501.0,456.07 502.0,456.10 503.0,456.14 504.0,456.18 505.0,456.22 506.0,456.25 507.0,456.28 508.0,456.32 509.0,456.35 510.0,456.38 511.0,456.40 512.0,456.43 513.0,456.46 514.0,456.48 515.0,456.50 516.0,456.52 517.0,456.54 518.0,456.56 519.0,456.57 520.0,456.58 521.0,456.59 522.0,456.60 523.0,456.61 524.0,456.61 525.0,456.62 526.0,456.63 527.0,456.63 528.0,456.64 529.0,456.65 530.0,456.65 531.0,456.66 532.0,456.67 533.0,456.67 534.0,456.68 535.0,456.68 536.0,456.69 537.0,456.70 538.0,456.70 539.0,456.71 540.0,456.71 541.0,456.72 542.0,456.72 543.0,456.73 544.0,456.73 545.0,456.74 546.0,456.74 547.0,456.74 548.0,456.75 549.0,456.75 550.0,456.76 551.0,456.76 552.0,456.76 553.0,456.77 554.0,456.77 555.0,456.77 556.0,456.78 557.0,456.78 558.0,456.78 559.0,456.78 560.0,456.79 561.0,456.79 562.0,456.79 563.0,456.79 564.0,456.79 565.0,456.79 566.0,456.80 567.0,456.80 568.0,456.80 569.0,456.80 570.0,456.80 571.0,456.80 572.0,456.80 573.0,456.80 574.0,456.80 575.0,456.80 576.0,456.80 577.0,456.80 578.0,456.79 579.0,456.79 580.0,456.79 581.0,456.79 582.0,456.78 583.0,456.78 584.0,456.77 585.0,456.77 586.0,456.77 587.0,456.76 588.0,456.76 589.0,456.75 590.0,456.75 591.0,456.74 592.0,456.74 593.0,456.73 594.0,456.72 595.0,456.72 596.0,456.71 597.0,456.71 598.0,456.70 599.0,456.69 600.0,456.69 601.0,456.68 602.0,456.68 603.0,456.67 604.0,456.67 605.0,456.66 606.0,456.66 607.0,456.65 608.0,456.64 609.0,456.64 610.0,456.64 611.0,456.63 612.0,456.63 613.0,456.62 614.0,456.62 615.0,456.62 616.0,456.61 617.0,456.61 618.0,456.61 619.0,456.60 620.0,456.60 621.0,456.60 622.0,456.60 623.0,456.60 624.0,456.60 625.0,456.60 626.0,456.60 627.0,456.60 628.0,456.60 629.0,456.60 630.0,456.60 631.0,456.60 632.0,456.60 633.0,456.60 634.0,456.60 635.0,456.60 636.0,456.60 637.0,456.60 638.0,456.60 639.0,456.60 640.0,456.60 641.0,456.60 642.0,456.60 643.0,456.60 644.0,456.60 645.0,456.60 646.0,456.60 647.0,456.60 648.0,456.60 649.0,456.60 650.0,456.60 651.0,456.60 652.0,456.60 653.0,456.60 654.0,456.60 655.0,456.60 656.0,456.60 657.0,456.60 658.0,456.60 659.0,456.60 660.0,456.60 661.0,456.60 662.0,456.60 663.0,456.60 664.0,456.60 665.0,456.60 666.0,456.60 667.0,456.60 668.0,456.60 669.0,456.60 670.0,456.60 671.0,456.60 672.0,456.60 673.0,456.60 674.0,456.60"/>
<rect x="56.6" y="267.1" width="10.8" height="10.8" fill="none" stroke="#800000" stroke-width="1.6"/>
<rect x="107.4" y="319.3" width="10.8" height="10.8" fill="none" stroke="#800000" stroke-width="1.6"/>
<rect x="158.4" y="361.3" width="10.8" height="10.8" fill="none" stroke="#800000" stroke-width="1.6"/>
<rect x="209.5" y="395.1" width="10.8" height="10.8" fill="none" stroke="#800000" stroke-width="1.6"/>
<rect x="260.2" y="418.0" width="10.8" height="10.8" fill="none" stroke="#800000" stroke-width="1.6"/>
<rect x="311.2" y="433.6" width="10.8" height="10.8" fill="none" stroke="#800000" stroke-width="1.6"/>
<rect x="363.7" y="442.2" width="10.8" height="10.8" fill="none" stroke="#800000" stroke-width="1.6"/>
<rect x="414.6" y="447.6" width="10.8" height="10.8" fill="none" stroke="#800000" stroke-width="1.6"/>
<rect x="465.6" y="449.4" width="10.8" height="10.8" fill="none" stroke="#800000" stroke-width="1.6"/>
<rect x="516.5" y="451.2" width="10.8" height="10.8" fill="none" stroke="#800000" stroke-width="1.6"/>
<rect x="567.2" y="451.4" width="10.8" height="10.8" fill="none" stroke="#800000" stroke-width="1.6"/>
<rect x="618.2" y="451.2" width="10.8" height="10.8" fill="none" stroke="#800000" stroke-width="1.6"/>
<rect x="668.6" y="451.2" width="10.8" height="10.8" fill="none" stroke="#800000" stroke-width="1.6"/>
<polyline fill="none" stroke-width="1.5" stroke="#804000" points="62.0,149.00 63.0,150.15 64.0,151.30 65.0,152.44 66.0,153.59 67.0,154.73 68.0,155.86 69.0,157.00 70.0,158.13 71.0,159.26 72.0,160.39 73.0,161.51 74.0,162.63 75.0,163.75 76.0,164.86 77.0,165.98 78.0,167.08 79.0,168.19 80.0,169.29 81.0,170.40 82.0,171.49 83.0,172.59 84.0,173.68 85.0,174.77 86.0,175.85 87.0,176.94 88.0,178.02 89.0,179.09 90.0,180.17 91.0,181.24 92.0,182.31 93.0,183.37 94.0,184.43 95.0,185.49 96.0,186.55 97.0,187.60 98.0,188.65 99.0,189.69 100.0,190.74 101.0,191.78 102.0,192.81 103.0,193.85 104.0,194.88 105.0,195.90 106.0,196.93 107.0,197.95 108.0,198.96 109.0,199.98 110.0,200.99 111.0,202.00 112.0,203.00 113.0,204.00 114.0,205.00 115.0,205.99 116.0,206.99 117.0,207.98 118.0,208.97 119.0,209.95 120.0,210.94 121.0,211.92 122.0,212.90 123.0,213.87 124.0,214.85 125.0,215.82 126.0,216.79 127.0,217.75 128.0,218.72 129.0,219.68 130.0,220.64 131.0,221.59 132.0,222.55 133.0,223.50 134.0,224.44 135.0,225.39 136.0,226.33 137.0,227.27 138.0,228.21 139.0,229.14 140.0,230.07 141.0,231.00 142.0,231.92 143.0,232.84 144.0,233.76 145.0,234.68 146.0,235.59 147.0,236.50 148.0,237.41 149.0,238.31 150.0,239.21 151.0,240.11 152.0,241.00 153.0,241.89 154.0,242.78 155.0,243.66 156.0,244.54 157.0,245.42 158.0,246.30 159.0,247.17 160.0,248.03 161.0,248.90 162.0,249.76 163.0,250.62 164.0,251.47 165.0,252.32 166.0,253.17 167.0,254.02 168.0,254.86 169.0,255.70 170.0,256.54 171.0,257.38 172.0,258.21 173.0,259.04 174.0,259.87 175.0,260.69 176.0,261.52 177.0,262.34 178.0,263.15 179.0,263.97 180.0,264.78 181.0,265.59 182.0,266.40 183.0,267.20 184.0,268.01 185.0,268.81 186.0,269.60 187.0,270.40 188.0,271.19 189.0,271.98 190.0,272.76 191.0,273.55 192.0,274.33 193.0,275.11 194.0,275.88 195.0,276.66 196.0,277.43 197.0,278.20 198.0,278.96 199.0,279.73 200.0,280.49 201.0,281.24 202.0,282.00 203.0,282.75 204.0,283.50 205.0,284.25 206.0,284.99 207.0,285.73 208.0,286.47 209.0,287.21 210.0,287.94 211.0,288.67 212.0,289.40 213.0,290.13 214.0,290.85 215.0,291.57 216.0,292.29 217.0,293.01 218.0,293.72 219.0,294.43 220.0,295.14 221.0,295.85 222.0,296.55 223.0,297.26 224.0,297.96 225.0,298.65 226.0,299.35 227.0,300.04 228.0,300.74 229.0,301.43 230.0,302.11 231.0,302.80 232.0,303.48 233.0,304.16 234.0,304.84 235.0,305.52 236.0,306.19 237.0,306.86 238.0,307.53 239.0,308.20 240.0,308.86 241.0,309.53 242.0,310.19 243.0,310.85 244.0,311.50 245.0,312.15 246.0,312.81 247.0,313.46 248.0,314.10 249.0,314.75 250.0,315.39 251.0,316.03 252.0,316.67 253.0,317.30 254.0,317.93 255.0,318.56 256.0,319.19 257.0,319.82 258.0,320.44 259.0,321.06 260.0,321.68 261.0,322.30 262.0,322.91 263.0,323.52 264.0,324.13 265.0,324.74 266.0,325.34 267.0,325.94 268.0,326.55 269.0,327.15 270.0,327.75 271.0,328.34 272.0,328.94 273.0,329.54 274.0,330.13 275.0,330.72 276.0,331.31 277.0,331.90 278.0,332.49 279.0,333.07 280.0,333.66 281.0,334.24 282.0,334.82 283.0,335.39 284.0,335.97 285.0,336.54 286.0,337.12 287.0,337.69 288.0,338.25 289.0,338.82 290.0,339.38 291.0,339.94 292.0,340.50 293.0,341.06 294.0,341.61 295.0,342.17 296.0,342.71 297.0,343.26 298.0,343.81 299.0,344.35 300.0,344.89 301.0,345.42 302.0,345.96 303.0,346.49 304.0,347.01 305.0,347.54 306.0,348.06 307.0,348.58 308.0,349.09 309.0,349.61 310.0,350.12 311.0,350.62 312.0,351.13 313.0,351.63 314.0,352.12 315.0,352.62 316.0,353.11 317.0,353.59 318.0,354.08 319.0,354.56 320.0,355.05 321.0,355.53 322.0,356.01 323.0,356.49 324.0,356.96 325.0,357.44 326.0,357.91 327.0,358.38 328.0,358.85 329.0,359.32 330.0,359.79 331.0,360.25 332.0,360.71 333.0,361.17 334.0,361.63 335.0,362.09 336.0,362.54 337.0,363.00 338.0,363.45 339.0,363.90 340.0,364.34 341.0,364.78 342.0,365.23 343.0,365.66 344.0,366.10 345.0,366.53 346.0,366.96 347.0,367.39 348.0,367.82 349.0,368.24 350.0,368.66 351.0,369.08 352.0,369.49 353.0,369.91 354.0,370.32 355.0,370.72 356.0,371.12 357.0,371.52 358.0,371.92 359.0,372.31 360.0,372.70 361.0,373.09 362.0,373.47 363.0,373.86 364.0,374.23 365.0,374.61 366.0,374.98 367.0,375.34 368.0,375.71 369.0,376.06 370.0,376.42 371.0,376.77 372.0,377.12 373.0,377.46 374.0,377.81 375.0,378.14 376.0,378.48 377.0,378.81 378.0,379.14 379.0,379.47 380.0,379.79 381.0,380.11 382.0,380.43 383.0,380.74 384.0,381.05 385.0,381.37 386.0,381.67 387.0,381.98 388.0,382.28 389.0,382.59 390.0,382.89 391.0,383.19 392.0,383.48 393.0,383.78 394.0,384.08 395.0,384.37 396.0,384.66 397.0,384.95 398.0,385.24 399.0,385.53 400.0,385.82 401.0,386.11 402.0,386.40 403.0,386.68 404.0,386.97 405.0,387.26 406.0,387.54 407.0,387.83 408.0,388.12 409.0,388.40 410.0,388.69 411.0,388.98 412.0,389.27 413.0,389.56 414.0,389.84 415.0,390.13 416.0,390.43 417.0,390.72 418.0,391.01 419.0,391.30 420.0,391.60 421.0,391.90 422.0,392.20 423.0,392.50 424.0,392.80 425.0,393.11 426.0,393.42 427.0,393.73 428.0,394.04 429.0,394.36 430.0,394.67 431.0,394.99 432.0,395.30 433.0,395.62 434.0,395.93 435.0,396.25 436.0,396.57 437.0,396.89 438.0,397.20 439.0,397.52 440.0,397.84 441.0,398.15 442.0,398.46 443.0,398.78 444.0,399.09 445.0,399.40 446.0,399.71 447.0,400.01 448.0,400.32 449.0,400.62 450.0,400.92 451.0,401.21 452.0,401.51 453.0,401.80 454.0,402.08 455.0,402.37 456.0,402.65 457.0,402.92 458.0,403.20 459.0,403.47 460.0,403.73 461.0,403.99 462.0,404.24 463.0,404.49 464.0,404.74 465.0,404.98 466.0,405.21 467.0,405.44 468.0,405.67 469.0,405.88 470.0,406.10 471.0,406.30 472.0,406.50 473.0,406.70 474.0,406.89 475.0,407.09 476.0,407.28 477.0,407.47 478.0,407.65 479.0,407.84 480.0,408.02 481.0,408.20 482.0,408.37 483.0,408.55 484.0,408.72 485.0,408.89 486.0,409.06 487.0,409.23 488.0,409.39 489.0,409.56 490.0,409.72 491.0,409.88 492.0,410.04 493.0,410.19 494.0,410.35 495.0,410.50 496.0,410.65 497.0,410.80 498.0,410.95 499.0,411.10 500.0,411.25 501.0,411.39 502.0,411.54 503.0,411.68 504.0,411.82 505.0,411.96 506.0,412.10 507.0,412.24 508.0,412.37 509.0,412.51 510.0,412.64 511.0,412.78 512.0,412.91 513.0,413.05 514.0,413.18 515.0,413.31 516.0,413.44 517.0,413.57 518.0,413.70 519.0,413.83 520.0,413.96 521.0,414.08 522.0,414.21 523.0,414.34 524.0,414.47 525.0,414.59 526.0,414.72 527.0,414.84 528.0,414.97 529.0,415.09 530.0,415.21 531.0,415.33 532.0,415.45 533.0,415.58 534.0,415.69 535.0,415.81 536.0,415.93 537.0,416.05 538.0,416.17 539.0,416.28 540.0,416.40 541.0,416.51 542.0,416.62 543.0,416.74 544.0,416.85 545.0,416.96 546.0,417.07 547.0,417.18 548.0,417.29 549.0,417.40 550.0,417.50 551.0,417.61 552.0,417.72 553.0,417.82 554.0,417.93 555.0,418.03 556.0,418.13 557.0,418.23 558.0,418.33 559.0,418.43 560.0,418.53 561.0,418.63 562.0,418.73 563.0,418.82 564.0,418.92 565.0,419.01 566.0,419.11 567.0,419.20 568.0,419.29 569.0,419.38 570.0,419.47 571.0,419.56 572.0,419.65 573.0,419.73 574.0,419.82 575.0,419.91 576.0,419.99 577.0,420.07 578.0,420.16 579.0,420.24 580.0,420.32 581.0,420.40 582.0,420.48 583.0,420.55 584.0,420.63 585.0,420.71 586.0,420.78 587.0,420.86 588.0,420.93 589.0,421.01 590.0,421.08 591.0,421.15 592.0,421.23 593.0,421.30 594.0,421.37 595.0,421.44 596.0,421.51 597.0,421.58 598.0,421.65 599.0,421.72 600.0,421.79 601.0,421.86 602.0,421.93 603.0,422.00 604.0,422.06 605.0,422.13 606.0,422.20 607.0,422.27 608.0,422.34 609.0,422.40 610.0,422.47 611.0,422.54 612.0,422.61 613.0,422.67 614.0,422.74 615.0,422.81 616.0,422.88 617.0,422.95 618.0,423.01 619.0,423.08 620.0,423.15 621.0,423.22 622.0,423.29 623.0,423.36 624.0,423.43 625.0,423.50 626.0,423.57 627.0,423.64 628.0,423.71 629.0,423.78 630.0,423.85 631.0,423.91 632.0,423.98 633.0,424.05 634.0,424.12 635.0,424.19 636.0,424.26 637.0,424.33 638.0,424.40 639.0,424.47 640.0,424.53 641.0,424.60 642.0,424.67 643.0,424.74 644.0,424.81 645.0,424.87 646.0,424.94 647.0,425.01 648.0,425.08 649.0,425.14 650.0,425.21 651.0,425.28 652.0,425.35 653.0,425.41 654.0,425.48 655.0,425.55 656.0,425.61 657.0,425.68 658.0,425.75 659.0,425.81 660.0,425.88 661.0,425.95 662.0,426.01 663.0,426.08 664.0,426.15 665.0,426.21 666.0,426.28 667.0,426.34 668.0,426.41 669.0,426.47 670.0,426.54 671.0,426.60 672.0,426.67 673.0,426.74 674.0,426.80"/>
<circle cx="62.0" cy="149.0" r="5.3" fill="none" stroke="#804000" stroke-width="1.5"/>
<circle cx="112.8" cy="203.8" r="5.3" fill="none" stroke="#804000" stroke-width="1.5"/>
<circle cx="163.8" cy="251.3" r="5.3" fill="none" stroke="#804000" stroke-width="1.5"/>
<circle cx="214.9" cy="291.5" r="5.3" fill="none" stroke="#804000" stroke-width="1.5"/>
<circle cx="265.6" cy="325.1" r="5.3" fill="none" stroke="#804000" stroke-width="1.5"/>
<circle cx="316.6" cy="353.4" r="5.3" fill="none" stroke="#804000" stroke-width="1.5"/>
<circle cx="369.1" cy="376.1" r="5.3" fill="none" stroke="#804000" stroke-width="1.5"/>
<circle cx="420.0" cy="391.6" r="5.3" fill="none" stroke="#804000" stroke-width="1.5"/>
<circle cx="471.0" cy="406.3" r="5.3" fill="none" stroke="#804000" stroke-width="1.5"/>
<circle cx="521.9" cy="414.2" r="5.3" fill="none" stroke="#804000" stroke-width="1.5"/>
<circle cx="572.6" cy="419.7" r="5.3" fill="none" stroke="#804000" stroke-width="1.5"/>
<circle cx="623.6" cy="423.4" r="5.3" fill="none" stroke="#804000" stroke-width="1.5"/>
<circle cx="674.0" cy="426.8" r="5.3" fill="none" stroke="#804000" stroke-width="1.5"/>
<polyline fill="none" stroke-width="1.5" stroke="#000046" points="62.0,18.00 63.0,19.22 64.0,20.43 65.0,21.65 66.0,22.86 67.0,24.06 68.0,25.27 69.0,26.47 70.0,27.66 71.0,28.86 72.0,30.05 73.0,31.23 74.0,32.42 75.0,33.60 76.0,34.78 77.0,35.95 78.0,37.12 79.0,38.29 80.0,39.45 81.0,40.62 82.0,41.77 83.0,42.93 84.0,44.08 85.0,45.23 86.0,46.37 87.0,47.51 88.0,48.65 89.0,49.78 90.0,50.91 91.0,52.04 92.0,53.16 93.0,54.28 94.0,55.40 95.0,56.51 96.0,57.62 97.0,58.72 98.0,59.83 99.0,60.92 100.0,62.02 101.0,63.11 102.0,64.20 103.0,65.28 104.0,66.36 105.0,67.44 106.0,68.51 107.0,69.58 108.0,70.64 109.0,71.70 110.0,72.76 111.0,73.81 112.0,74.86 113.0,75.91 114.0,76.95 115.0,77.99 116.0,79.02 117.0,80.05 118.0,81.08 119.0,82.10 120.0,83.12 121.0,84.14 122.0,85.15 123.0,86.16 124.0,87.17 125.0,88.17 126.0,89.17 127.0,90.16 128.0,91.16 129.0,92.15 130.0,93.13 131.0,94.12 132.0,95.10 133.0,96.08 134.0,97.05 135.0,98.02 136.0,98.99 137.0,99.96 138.0,100.92 139.0,101.88 140.0,102.84 141.0,103.80 142.0,104.75 143.0,105.70 144.0,106.65 145.0,107.59 146.0,108.54 147.0,109.48 148.0,110.42 149.0,111.36 150.0,112.29 151.0,113.22 152.0,114.15 153.0,115.08 154.0,116.01 155.0,116.93 156.0,117.86 157.0,118.78 158.0,119.70 159.0,120.62 160.0,121.53 161.0,122.45 162.0,123.36 163.0,124.27 164.0,125.18 165.0,126.09 166.0,127.00 167.0,127.90 168.0,128.80 169.0,129.70 170.0,130.60 171.0,131.50 172.0,132.39 173.0,133.28 174.0,134.17 175.0,135.06 176.0,135.94 177.0,136.83 178.0,137.71 179.0,138.59 180.0,139.47 181.0,140.34 182.0,141.22 183.0,142.09 184.0,142.96 185.0,143.82 186.0,144.69 187.0,145.55 188.0,146.42 189.0,147.28 190.0,148.13 191.0,148.99 192.0,149.84 193.0,150.70 194.0,151.55 195.0,152.40 196.0,153.24 197.0,154.09 198.0,154.93 199.0,155.77 200.0,156.61 201.0,157.45 202.0,158.28 203.0,159.12 204.0,159.95 205.0,160.78 206.0,161.61 207.0,162.43 208.0,163.26 209.0,164.08 210.0,164.90 211.0,165.72 212.0,166.54 213.0,167.35 214.0,168.17 215.0,168.98 216.0,169.79 217.0,170.60 218.0,171.42 219.0,172.23 220.0,173.04 221.0,173.85 222.0,174.66 223.0,175.46 224.0,176.27 225.0,177.08 226.0,177.89 227.0,178.69 228.0,179.49 229.0,180.30 230.0,181.10 231.0,181.90 232.0,182.69 233.0,183.49 234.0,184.28 235.0,185.08 236.0,185.87 237.0,186.65 238.0,187.44 239.0,188.22 240.0,189.01 241.0,189.79 242.0,190.56 243.0,191.34 244.0,192.11 245.0,192.87 246.0,193.64 247.0,194.40 248.0,195.16 249.0,195.92 250.0,196.67 251.0,197.42 252.0,198.16 253.0,198.91 254.0,199.64 255.0,200.38 256.0,201.11 257.0,201.83 258.0,202.56 259.0,203.27 260.0,203.99 261.0,204.70 262.0,205.40 263.0,206.10 264.0,206.80 265.0,207.49 266.0,208.17 267.0,208.86 268.0,209.53 269.0,210.21 270.0,210.88 271.0,211.55 272.0,212.22 273.0,212.88 274.0,213.54 275.0,214.19 276.0,214.85 277.0,215.50 278.0,216.14 279.0,216.79 280.0,217.43 281.0,218.07 282.0,218.70 283.0,219.34 284.0,219.97 285.0,220.60 286.0,221.22 287.0,221.85 288.0,222.47 289.0,223.08 290.0,223.70 291.0,224.31 292.0,224.93 293.0,225.53 294.0,226.14 295.0,226.75 296.0,227.35 297.0,227.95 298.0,228.55 299.0,229.15 300.0,229.74 301.0,230.34 302.0,230.93 303.0,231.52 304.0,232.11 305.0,232.69 306.0,233.28 307.0,233.86 308.0,234.44 309.0,235.02 310.0,235.60 311.0,236.18 312.0,236.76 313.0,237.34 314.0,237.91 315.0,238.48 316.0,239.06 317.0,239.63 318.0,240.20 319.0,240.77 320.0,241.33 321.0,241.90 322.0,242.46 323.0,243.02 324.0,243.58 325.0,244.13 326.0,244.69 327.0,245.24 328.0,245.79 329.0,246.34 330.0,246.89 331.0,247.43 332.0,247.98 333.0,248.52 334.0,249.06 335.0,249.60 336.0,250.14 337.0,250.67 338.0,251.21 339.0,251.74 340.0,252.28 341.0,252.81 342.0,253.34 343.0,253.87 344.0,254.39 345.0,254.92 346.0,255.44 347.0,255.97 348.0,256.49 349.0,257.01 350.0,257.53 351.0,258.05 352.0,258.57 353.0,259.09 354.0,259.60 355.0,260.12 356.0,260.63 357.0,261.14 358.0,261.66 359.0,262.17 360.0,262.68 361.0,263.19 362.0,263.70 363.0,264.21 364.0,264.72 365.0,265.23 366.0,265.73 367.0,266.24 368.0,266.74 369.0,267.25 370.0,267.75 371.0,268.26 372.0,268.77 373.0,269.27 374.0,269.78 375.0,270.28 376.0,270.79 377.0,271.30 378.0,271.80 379.0,272.31 380.0,272.81 381.0,273.32 382.0,273.82 383.0,274.33 384.0,274.83 385.0,275.33 386.0,275.83 387.0,276.33 388.0,276.83 389.0,277.33 390.0,277.83 391.0,278.33 392.0,278.82 393.0,279.31 394.0,279.81 395.0,280.30 396.0,280.78 397.0,281.27 398.0,281.76 399.0,282.24 400.0,282.72 401.0,283.20 402.0,283.68 403.0,284.15 404.0,284.62 405.0,285.09 406.0,285.56 407.0,286.03 408.0,286.49 409.0,286.95 410.0,287.40 411.0,287.86 412.0,288.31 413.0,288.76 414.0,289.20 415.0,289.64 416.0,290.08 417.0,290.52 418.0,290.95 419.0,291.38 420.0,291.80 421.0,292.22 422.0,292.64 423.0,293.05 424.0,293.47 425.0,293.88 426.0,294.28 427.0,294.69 428.0,295.09 429.0,295.49 430.0,295.89 431.0,296.28 432.0,296.68 433.0,297.07 434.0,297.45 435.0,297.84 436.0,298.23 437.0,298.61 438.0,298.99 439.0,299.37 440.0,299.75 441.0,300.12 442.0,300.50 443.0,300.87 444.0,301.24 445.0,301.61 446.0,301.98 447.0,302.35 448.0,302.71 449.0,303.08 450.0,303.44 451.0,303.81 452.0,304.17 453.0,304.53 454.0,304.89 455.0,305.26 456.0,305.62 457.0,305.98 458.0,306.34 459.0,306.69 460.0,307.05 461.0,307.41 462.0,307.77 463.0,308.13 464.0,308.49 465.0,308.84 466.0,309.20 467.0,309.56 468.0,309.92 469.0,310.28 470.0,310.64 471.0,311.00 472.0,311.36 473.0,311.72 474.0,312.09 475.0,312.45 476.0,312.82 477.0,313.18 478.0,313.55 479.0,313.92 480.0,314.29 481.0,314.65 482.0,315.02 483.0,315.39 484.0,315.76 485.0,316.13 486.0,316.50 487.0,316.87 488.0,317.23 489.0,317.60 490.0,317.97 491.0,318.33 492.0,318.70 493.0,319.06 494.0,319.42 495.0,319.78 496.0,320.14 497.0,320.50 498.0,320.86 499.0,321.21 500.0,321.57 501.0,321.92 502.0,322.27 503.0,322.61 504.0,322.96 505.0,323.30 506.0,323.64 507.0,323.98 508.0,324.31 509.0,324.64 510.0,324.97 511.0,325.29 512.0,325.62 513.0,325.93 514.0,326.25 515.0,326.56 516.0,326.87 517.0,327.17 518.0,327.47 519.0,327.77 520.0,328.06 521.0,328.35 522.0,328.63 523.0,328.91 524.0,329.18 525.0,329.46 526.0,329.73 527.0,330.00 528.0,330.26 529.0,330.53 530.0,330.79 531.0,331.04 532.0,331.30 533.0,331.55 534.0,331.81 535.0,332.06 536.0,332.30 537.0,332.55 538.0,332.79 539.0,333.03 540.0,333.27 541.0,333.51 542.0,333.75 543.0,333.99 544.0,334.22 545.0,334.45 546.0,334.68 547.0,334.91 548.0,335.14 549.0,335.37 550.0,335.60 551.0,335.82 552.0,336.05 553.0,336.27 554.0,336.50 555.0,336.72 556.0,336.94 557.0,337.16 558.0,337.38 559.0,337.60 560.0,337.82 561.0,338.04 562.0,338.26 563.0,338.48 564.0,338.70 565.0,338.92 566.0,339.14 567.0,339.36 568.0,339.58 569.0,339.80 570.0,340.02 571.0,340.24 572.0,340.47 573.0,340.69 574.0,340.91 575.0,341.14 576.0,341.36 577.0,341.58 578.0,341.81 579.0,342.04 580.0,342.26 581.0,342.49 582.0,342.71 583.0,342.94 584.0,343.17 585.0,343.39 586.0,343.62 587.0,343.84 588.0,344.07 589.0,344.29 590.0,344.52 591.0,344.74 592.0,344.97 593.0,345.19 594.0,345.41 595.0,345.63 596.0,345.85 597.0,346.07 598.0,346.29 599.0,346.51 600.0,346.72 601.0,346.94 602.0,347.15 603.0,347.36 604.0,347.57 605.0,347.78 606.0,347.99 607.0,348.20 608.0,348.40 609.0,348.60 610.0,348.80 611.0,349.00 612.0,349.20 613.0,349.39 614.0,349.58 615.0,349.77 616.0,349.96 617.0,350.15 618.0,350.33 619.0,350.51 620.0,350.69 621.0,350.86 622.0,351.03 623.0,351.20 624.0,351.37 625.0,351.53 626.0,351.70 627.0,351.86 628.0,352.02 629.0,352.18 630.0,352.34 631.0,352.50 632.0,352.66 633.0,352.82 634.0,352.97 635.0,353.13 636.0,353.28 637.0,353.44 638.0,353.59 639.0,353.74 640.0,353.89 641.0,354.04 642.0,354.19 643.0,354.33 644.0,354.48 645.0,354.62 646.0,354.77 647.0,354.91 648.0,355.05 649.0,355.19 650.0,355.32 651.0,355.46 652.0,355.60 653.0,355.73 654.0,355.86 655.0,355.99 656.0,356.12 657.0,356.25 658.0,356.38 659.0,356.50 660.0,356.63 661.0,356.75 662.0,356.87 663.0,356.99 664.0,357.11 665.0,357.23 666.0,357.34 667.0,357.45 668.0,357.57 669.0,357.68 670.0,357.78 671.0,357.89 672.0,358.00 673.0,358.10 674.0,358.20"/>
<polygon points="112.8,70.5 118.2,80.7 107.4,80.7" fill="none" stroke="#000046" stroke-width="1.6" stroke-linejoin="miter"/>
<polygon points="163.8,119.8 169.2,130.0 158.4,130.0" fill="none" stroke="#000046" stroke-width="1.6" stroke-linejoin="miter"/>
<polygon points="214.9,163.7 220.3,173.9 209.5,173.9" fill="none" stroke="#000046" stroke-width="1.6" stroke-linejoin="miter"/>
<polygon points="265.6,202.7 271.0,212.9 260.2,212.9" fill="none" stroke="#000046" stroke-width="1.6" stroke-linejoin="miter"/>
<polygon points="316.6,234.2 322.0,244.4 311.2,244.4" fill="none" stroke="#000046" stroke-width="1.6" stroke-linejoin="miter"/>
<polygon points="369.1,262.1 374.5,272.3 363.7,272.3" fill="none" stroke="#000046" stroke-width="1.6" stroke-linejoin="miter"/>
<polygon points="420.0,286.6 425.4,296.8 414.6,296.8" fill="none" stroke="#000046" stroke-width="1.6" stroke-linejoin="miter"/>
<polygon points="471.0,305.8 476.4,316.0 465.6,316.0" fill="none" stroke="#000046" stroke-width="1.6" stroke-linejoin="miter"/>
<polygon points="521.9,323.4 527.3,333.6 516.5,333.6" fill="none" stroke="#000046" stroke-width="1.6" stroke-linejoin="miter"/>
<polygon points="572.6,335.4 578.0,345.6 567.2,345.6" fill="none" stroke="#000046" stroke-width="1.6" stroke-linejoin="miter"/>
<polygon points="623.6,346.1 629.0,356.3 618.2,356.3" fill="none" stroke="#000046" stroke-width="1.6" stroke-linejoin="miter"/>
<polygon points="674.0,353.0 679.4,363.2 668.6,363.2" fill="none" stroke="#000046" stroke-width="1.6" stroke-linejoin="miter"/>
</g>
<line x1="395.5" y1="62.8" x2="437.5" y2="62.8" stroke="#ff0000" stroke-width="1.5"/><rect x="394.5" y="56.8" width="12" height="12" fill="#ff0000"/><rect x="410.5" y="56.8" width="12" height="12" fill="#ff0000"/><rect x="426.5" y="56.8" width="12" height="12" fill="#ff0000"/>
<line x1="395.5" y1="98.2" x2="437.5" y2="98.2" stroke="#008040" stroke-width="1.5"/><circle cx="400.5" cy="98.2" r="6" fill="#008040"/><circle cx="416.5" cy="98.2" r="6" fill="#008040"/><circle cx="432.5" cy="98.2" r="6" fill="#008040"/>
<line x1="395.5" y1="133.5" x2="437.5" y2="133.5" stroke="#8000ff" stroke-width="1.5"/><polygon points="400.5,127.2 406.8,139.2 394.2,139.2" fill="#8000ff"/><polygon points="416.5,127.2 422.8,139.2 410.2,139.2" fill="#8000ff"/><polygon points="432.5,127.2 438.8,139.2 426.2,139.2" fill="#8000ff"/>
<line x1="567.6" y1="64.8" x2="609.6" y2="64.8" stroke="#800000" stroke-width="1.5"/><rect x="567.2" y="59.4" width="10.8" height="10.8" fill="none" stroke="#800000" stroke-width="1.6"/><rect x="583.2" y="59.4" width="10.8" height="10.8" fill="none" stroke="#800000" stroke-width="1.6"/><rect x="599.2" y="59.4" width="10.8" height="10.8" fill="none" stroke="#800000" stroke-width="1.6"/>
<line x1="567.3" y1="100.1" x2="609.3" y2="100.1" stroke="#804000" stroke-width="1.5"/><circle cx="572.3" cy="100.1" r="5.3" fill="none" stroke="#804000" stroke-width="1.5"/><circle cx="588.3" cy="100.1" r="5.3" fill="none" stroke="#804000" stroke-width="1.5"/><circle cx="604.3" cy="100.1" r="5.3" fill="none" stroke="#804000" stroke-width="1.5"/>
<line x1="567.3" y1="135.0" x2="609.3" y2="135.0" stroke="#000046" stroke-width="1.5"/><polygon points="572.3,129.8 577.7,140.0 566.9,140.0" fill="none" stroke="#000046" stroke-width="1.6" stroke-linejoin="miter"/><polygon points="588.3,129.8 593.7,140.0 582.9,140.0" fill="none" stroke="#000046" stroke-width="1.6" stroke-linejoin="miter"/><polygon points="604.3,129.8 609.7,140.0 598.9,140.0" fill="none" stroke="#000046" stroke-width="1.6" stroke-linejoin="miter"/>
<text class="it" x="149.5" y="71" font-size="40">g</text>
<text x="174" y="71" font-size="40">(</text>
<text class="it" x="186" y="71" font-size="40">t</text>
<text x="200" y="71" font-size="40">)</text>
<text x="0" y="0" font-size="40" transform="translate(220.0,75.5) scale(1.15,1)">=</text>
<text class="it" x="0" y="0" font-size="40" transform="translate(254.5,71) scale(1.12,1)">H</text>
<text x="289.5" y="71" font-size="40">(</text>
<text class="it" x="302" y="71" font-size="40">t</text>
<text x="314" y="71" font-size="40">)</text>
<text class="it" x="329" y="71" font-size="40">t</text>
<text class="it ar" x="0" y="0" font-size="23" transform="translate(343,52.8) scale(1.25,0.95)">&#945;</text>
<text class="it" x="451" y="69.5" font-size="39">t</text>
<text x="0" y="0" font-size="39" transform="translate(471.0,73.0) scale(1.15,1)">=</text>
<text x="502.5" y="69.5" font-size="40">0.8</text>
<text class="it" x="451" y="108.5" font-size="39">t</text>
<text x="0" y="0" font-size="39" transform="translate(471.0,112.0) scale(1.15,1)">=</text>
<text x="499.5" y="108.5" font-size="40">1.6</text>
<text class="it" x="451" y="146.5" font-size="39">t</text>
<text x="0" y="0" font-size="39" transform="translate(471.0,150.0) scale(1.15,1)">=</text>
<text x="503.0" y="146.5" font-size="40">2.6</text>
<text class="ar" x="0" y="0" font-size="40" text-anchor="middle" style="font-family:'Noto Serif CJK SC','Liberation Serif',serif" transform="translate(414.0,185.0) scale(1.12,1)">&#8593;</text>
<text class="ar" x="0" y="0" font-size="40" text-anchor="middle" style="font-family:'Noto Serif CJK SC','Liberation Serif',serif" transform="translate(589.0,191.0) scale(1.12,1)">&#8593;</text>
<text class="it" x="0" y="0" font-size="39" transform="translate(376.0,220.5) scale(1.2,0.97)">&#949;</text>
<text x="0" y="0" font-size="39" transform="translate(403.0,223.5) scale(1.15,1)">=</text>
<text x="436" y="220.5" font-size="39">0</text>
<text class="it" x="0" y="0" font-size="39" transform="translate(550.5,220.5) scale(1.2,0.97)">&#949;</text>
<text x="0" y="0" font-size="39" transform="translate(577.0,223.5) scale(1.15,1)">=</text>
<text x="604" y="220.5" font-size="39">1</text>
<text class="it" x="0" y="0" font-size="39" transform="translate(364.5,515.5) scale(1.12,1)">y</text>
<text class="it" transform="translate(29,292.5) rotate(-90)" font-size="40.5">Velocity</text>
<g font-size="24.5">
<text x="60.5" y="17.3" text-anchor="end">2</text>
<text x="31.6 42 48" y="133.3" text-anchor="start">1.5</text>
<text x="59.5" y="249.0" text-anchor="end">1</text>
<text x="32.6 42 48" y="365.3" text-anchor="start">0.5</text>
<text x="59.5" y="480.5" text-anchor="end">0</text>
<text x="66.3" y="496.5" text-anchor="middle">0</text>
<text x="270.0" y="496.5" text-anchor="middle">1</text>
<text x="473.5" y="496.5" text-anchor="middle">2</text>
<text x="678.3" y="496.5" text-anchor="middle">3</text>
</g>
</svg></body></html>
